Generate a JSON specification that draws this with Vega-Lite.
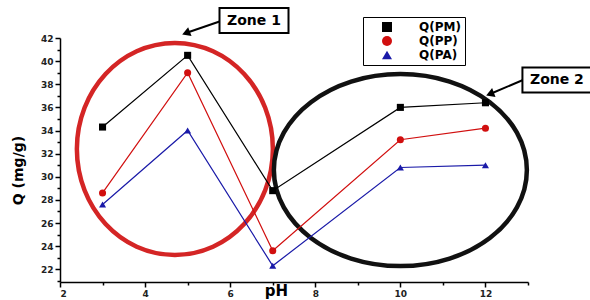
{
  "$schema": "https://vega.github.io/schema/vega-lite/v6.json",
  "width": 468,
  "height": 244,
  "autosize": "none",
  "padding": {"left": 60, "top": 38, "right": 62, "bottom": 18},
  "background": "white",
  "config": {"view": {"stroke": null}},
  "data": {"values": [
    {"series": "Q(PM)", "pH": 3, "Q": 34.3},
    {"series": "Q(PM)", "pH": 5, "Q": 40.5},
    {"series": "Q(PM)", "pH": 7, "Q": 28.8},
    {"series": "Q(PM)", "pH": 10, "Q": 36.0},
    {"series": "Q(PM)", "pH": 12, "Q": 36.4},
    {"series": "Q(PP)", "pH": 3, "Q": 28.6},
    {"series": "Q(PP)", "pH": 5, "Q": 39.0},
    {"series": "Q(PP)", "pH": 7, "Q": 23.6},
    {"series": "Q(PP)", "pH": 10, "Q": 33.2},
    {"series": "Q(PP)", "pH": 12, "Q": 34.2},
    {"series": "Q(PA)", "pH": 3, "Q": 27.6},
    {"series": "Q(PA)", "pH": 5, "Q": 34.0},
    {"series": "Q(PA)", "pH": 7, "Q": 22.3},
    {"series": "Q(PA)", "pH": 10, "Q": 30.8},
    {"series": "Q(PA)", "pH": 12, "Q": 31.0}
  ]},
  "encoding": {
    "x": {
      "field": "pH", "type": "quantitative",
      "scale": {"domain": [2, 13], "nice": false, "zero": false},
      "axis": {
        "title": "pH", "values": [2,3,4,5,6,7,8,9,10,11,12,13],
        "labelExpr": "datum.value % 2 ? '' : datum.label",
        "grid": false, "domainColor": "#000", "domainWidth": 1.5,
        "tickColor": "#000", "tickWidth": 1.5,
        "tickSize": {"condition": {"test": "datum.value % 2 !== 0", "value": 3}, "value": 5},
        "labelFont": "DejaVu Sans", "labelFontWeight": "bold", "labelFontSize": 9, "labelColor": "#222", "labelPadding": 2,
        "titleFont": "DejaVu Sans", "titleFontWeight": "bold", "titleFontSize": 15, "titleColor": "#000",
        "titleX": 216, "titleY": 13, "titleAlign": "center", "titleBaseline": "alphabetic"
      }
    },
    "y": {
      "field": "Q", "type": "quantitative",
      "scale": {"domain": [20.9, 42], "nice": false, "zero": false},
      "axis": {
        "title": "Q (mg/g)", "values": [21,22,23,24,25,26,27,28,29,30,31,32,33,34,35,36,37,38,39,40,41,42],
        "labelExpr": "datum.value % 2 ? '' : datum.label",
        "grid": false, "domainColor": "#000", "domainWidth": 1.5,
        "tickColor": "#000", "tickWidth": 1.5,
        "tickSize": {"condition": {"test": "datum.value % 2 !== 0", "value": 3}, "value": 5},
        "labelFont": "DejaVu Sans", "labelFontWeight": "bold", "labelFontSize": 9, "labelColor": "#222", "labelPadding": 2,
        "titleFont": "DejaVu Sans", "titleFontWeight": "bold", "titleFontSize": 14, "titleColor": "#000",
        "titleX": -42, "titleY": 132, "titleAlign": "center", "titleBaseline": "middle", "titleAngle": -90
      }
    }
  },
  "layer": [
    {
      "data": {"values": [{"zone": "Zone 1", "pH": 4.70, "Q": 32.4}]},
      "mark": {"type": "point", "filled": false, "opacity": 1, "stroke": "#d42525", "strokeWidth": 4.5, "size": 38416,
        "shape": "M1,0C1,0.5976 0.5523,1.082 0,1.082C-0.5523,1.082 -1,0.5976 -1,0C-1,-0.5976 -0.5523,-1.082 0,-1.082C0.5523,-1.082 1,-0.5976 1,0Z"}
    },
    {
      "data": {"values": [{"zone": "Zone 2", "pH": 10.0, "Q": 30.58}]},
      "mark": {"type": "point", "filled": false, "opacity": 1, "stroke": "#111", "strokeWidth": 4.5, "size": 64009,
        "shape": "M1,0C1,0.419 0.5523,0.759 0,0.759C-0.5523,0.759 -1,0.419 -1,0C-1,-0.419 -0.5523,-0.759 0,-0.759C0.5523,-0.759 1,-0.419 1,0Z"}
    },
    {
      "transform": [{"filter": "datum.series === 'Q(PM)'"}],
      "mark": {"type": "line", "strokeWidth": 1.2, "color": "#000000"}
    },
    {
      "transform": [{"filter": "datum.series === 'Q(PP)'"}],
      "mark": {"type": "line", "strokeWidth": 1.2, "color": "#d10f0f"}
    },
    {
      "transform": [{"filter": "datum.series === 'Q(PA)'"}],
      "mark": {"type": "line", "strokeWidth": 1.2, "color": "#1a1aa8"}
    },
    {
      "mark": {"type": "point", "filled": true, "opacity": 1, "size": 50},
      "encoding": {
        "color": {"field": "series", "type": "nominal", "scale": {"domain": ["Q(PM)", "Q(PP)", "Q(PA)"], "range": ["#000000", "#d10f0f", "#1a1aa8"]},
          "legend": {
            "title": null, "orient": "none", "legendX": 303, "legendY": -21,
            "strokeColor": "#000", "padding": 4, "rowPadding": 2,
            "symbolSize": 100, "symbolOffset": 14, "labelOffset": 26,
            "labelFont": "DejaVu Sans", "labelFontWeight": "bold", "labelFontSize": 12, "labelColor": "#000",
            "encode": {"symbols": {
              "shape": {"condition": [
                {"test": "datum.value === 'Q(PM)'", "value": "M-3.9,0H3.9M-0.7,-0.7H0.7V0.7H-0.7Z"},
                {"test": "datum.value === 'Q(PP)'", "value": "M-3.9,0H3.9M0.75,0C0.75,0.414 0.414,0.75 0,0.75C-0.414,0.75 -0.75,0.414 -0.75,0C-0.75,-0.414 -0.414,-0.75 0,-0.75C0.414,-0.75 0.75,-0.414 0.75,0Z"}
              ], "value": "M-3.9,0H3.9M0,-0.85L0.8,0.6H-0.8Z"},
              "stroke": {"condition": [
                {"test": "datum.value === 'Q(PM)'", "value": "#000000"},
                {"test": "datum.value === 'Q(PP)'", "value": "#d10f0f"}
              ], "value": "#1a1aa8"},
              "strokeWidth": {"value": 1.5},
              "opacity": {"value": 1}
            }}
          }},
        "shape": {"field": "series", "type": "nominal", "scale": {"domain": ["Q(PM)", "Q(PP)", "Q(PA)"], "range": ["square", "circle", "triangle-up"]},
          "legend": {
            "title": null, "orient": "none", "legendX": 303, "legendY": -21,
            "strokeColor": "#000", "padding": 4, "rowPadding": 2,
            "symbolSize": 100, "symbolOffset": 14, "labelOffset": 26,
            "labelFont": "DejaVu Sans", "labelFontWeight": "bold", "labelFontSize": 12, "labelColor": "#000",
            "encode": {"symbols": {
              "shape": {"condition": [
                {"test": "datum.value === 'Q(PM)'", "value": "M-3.9,0H3.9M-0.7,-0.7H0.7V0.7H-0.7Z"},
                {"test": "datum.value === 'Q(PP)'", "value": "M-3.9,0H3.9M0.75,0C0.75,0.414 0.414,0.75 0,0.75C-0.414,0.75 -0.75,0.414 -0.75,0C-0.75,-0.414 -0.414,-0.75 0,-0.75C0.414,-0.75 0.75,-0.414 0.75,0Z"}
              ], "value": "M-3.9,0H3.9M0,-0.85L0.8,0.6H-0.8Z"},
              "stroke": {"condition": [
                {"test": "datum.value === 'Q(PM)'", "value": "#000000"},
                {"test": "datum.value === 'Q(PP)'", "value": "#d10f0f"}
              ], "value": "#1a1aa8"},
              "strokeWidth": {"value": 1.5},
              "opacity": {"value": 1}
            }}
          }}
      }
    },
    {
      "data": {"values": [
        {"zone": "Zone 1", "pH": 4.962, "Q": 42.43, "pH2": 5.784, "Q2": 43.47},
        {"zone": "Zone 2", "pH": 12.107, "Q": 37.16, "pH2": 12.882, "Q2": 38.37}
      ]},
      "layer": [
        {
          "mark": {"type": "rule", "color": "#000", "strokeWidth": 2},
          "encoding": {"x2": {"field": "pH2"}, "y2": {"field": "Q2"}}
        },
        {
          "mark": {"type": "point", "shape": "triangle-right", "filled": true, "opacity": 1, "color": "#000", "size": 90, "angle": 159}
        }
      ]
    },
    {
      "data": {"values": [
        {"label": "Zone 1", "pH": 6.56, "Q": 43.51},
        {"label": "Zone 2", "pH": 13.68, "Q": 38.37}
      ]},
      "layer": [
        {
          "mark": {"type": "point", "filled": true, "fill": "white", "opacity": 1, "stroke": "#000", "strokeWidth": 2, "size": 4761,
            "shape": "M-1,-0.36H1V0.36H-1Z"}
        },
        {
          "mark": {"type": "text", "font": "DejaVu Sans", "fontWeight": "bold", "fontSize": 14, "color": "#000", "align": "center", "baseline": "middle"},
          "encoding": {"text": {"field": "label"}}
        }
      ]
    }
  ]
}
